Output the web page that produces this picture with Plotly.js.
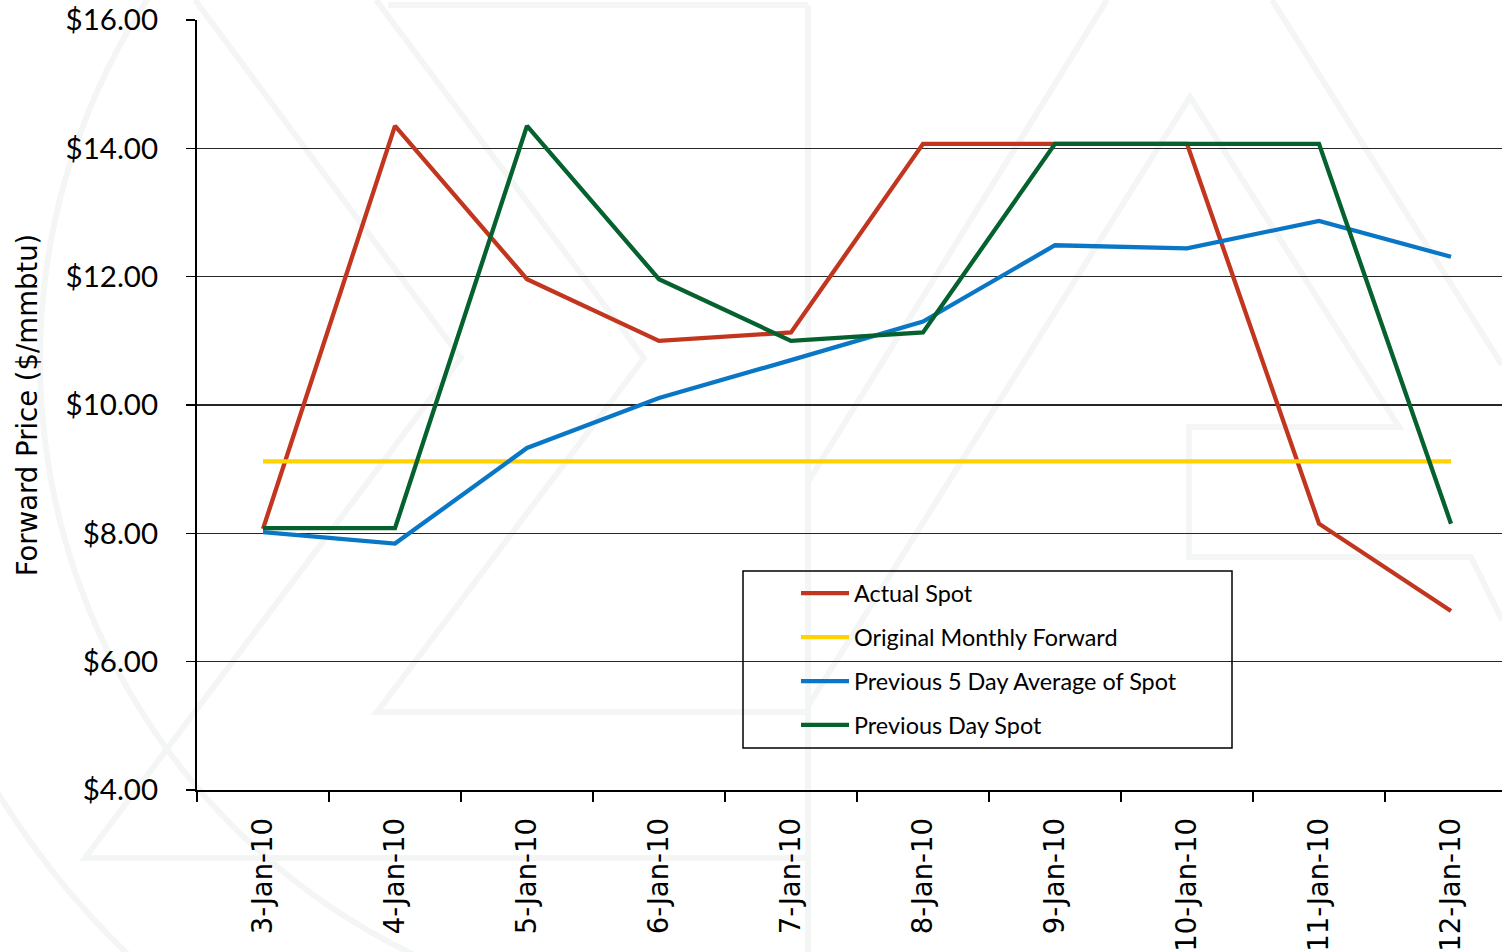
<!DOCTYPE html>
<html>
<head>
<meta charset="utf-8">
<script src="https://cdn.plot.ly/plotly-3.0.1.min.js"></script>
<style>
  html, body { margin: 0; padding: 0; overflow: hidden; background: #ffffff; }
</style>
</head>
<body>
<div id="chart"></div>
<script>
// Trading days shown on the category axis
const dates = ['3-Jan-10', '4-Jan-10', '5-Jan-10', '6-Jan-10', '7-Jan-10',
               '8-Jan-10', '9-Jan-10', '10-Jan-10', '11-Jan-10', '12-Jan-10'];

// Prices in $/mmbtu
const actualSpot      = [8.07, 14.35, 11.96, 11.00, 11.13, 14.07, 14.07, 14.07, 8.15, 6.79];
const monthlyForward  = [9.12, 9.12, 9.12, 9.12, 9.12, 9.12, 9.12, 9.12, 9.12, 9.12];
const fiveDayAverage  = [8.02, 7.84, 9.33, 10.11, 10.70, 11.30, 12.49, 12.44, 12.87, 12.31];
const previousDaySpot = [8.08, 8.08, 14.35, 11.96, 11.00, 11.13, 14.07, 14.07, 14.07, 8.15];

const seriesNames  = ['Actual Spot', 'Original Monthly Forward',
                      'Previous 5 Day Average of Spot', 'Previous Day Spot'];
const seriesValues = [actualSpot, monthlyForward, fiveDayAverage, previousDaySpot];
const seriesColors = ['#C2361F', '#FFD200', '#0A77C6', '#05622F'];

const yTicks = [4, 6, 8, 10, 12, 14, 16];

// Frame geometry (pixels)
const W = 1520, H = 952;
const L = 197, T = 20, PW = 1320, PH = 770;
const px = x => (x - L) / PW;          // pixel -> paper x
const py = y => (T + PH - y) / PH;     // pixel -> paper y

// Faint background emblem
const WM = '#f4f6f5';
const emblemLines = [
  [[388, 5], [808, 5]],
  [[808, 5], [808, 952]],
  [[376, 0], [644, 358], [377, 712], [808, 712]],
  [[195, 0], [461, 358], [85, 858], [808, 858]],
  [[1107, 0], [808, 482]],
  [[808, 706], [1190, 97], [1399, 427], [1189, 427], [1189, 557], [1471, 557], [1502, 620]],
  [[1272, 0], [1502, 365]]
];
function arcPoints(cx, cy, r, a0, a1) {
  const pts = [];
  for (let a = a0; a <= a1; a += 2) {
    const t = a * Math.PI / 180;
    pts.push([cx + r * Math.cos(t), cy + r * Math.sin(t)]);
  }
  return pts;
}
emblemLines.push(arcPoints(700, 360, 660, 110, 216));
emblemLines.push(arcPoints(700, 360, 825, 118, 160));

function toPath(pts) {
  return pts.map((p, i) => (i ? 'L' : 'M') + px(p[0]).toFixed(5) + ',' + py(p[1]).toFixed(5)).join(' ');
}

const shapes = emblemLines.map(pts => ({
  type: 'path', xref: 'paper', yref: 'paper', layer: 'below',
  path: toPath(pts), line: { color: WM, width: 6 }
}));

// Legend frame
shapes.push({
  type: 'rect', xref: 'paper', yref: 'paper', layer: 'above',
  x0: px(743), x1: px(1232), y0: py(748), y1: py(571),
  line: { color: '#000000', width: 1.5 }, fillcolor: 'rgba(0,0,0,0)'
});

const traces = seriesNames.map((name, i) => ({
  type: 'scatter', mode: 'lines',
  x: dates, y: seriesValues[i], name: name,
  legendgroup: 'g' + i,
  line: { color: seriesColors[i], width: 4.3 },
  hoverinfo: 'skip'
}));

const layout = {
  width: W, height: H,
  margin: { l: L, r: W - L - PW, t: T, b: H - T - PH, pad: 0 },
  paper_bgcolor: '#ffffff',
  plot_bgcolor: 'rgba(0,0,0,0)',
  font: { family: 'DejaVu Sans', color: '#000000' },
  showlegend: true,
  legend: {
    x: px(796), y: py(571.5), xanchor: 'left', yanchor: 'top',
    bgcolor: 'rgba(0,0,0,0)', borderwidth: 0,
    traceorder: 'grouped', tracegroupgap: 10.5, itemwidth: 48,
    font: { family: 'Lato', size: 23.4, color: '#000000' }
  },
  xaxis: {
    type: 'category', range: [-0.5, dates.length - 0.5],
    tickson: 'boundaries', ticks: 'outside', ticklen: 10, tickwidth: 1.5, tickcolor: '#000000',
    showline: true, linecolor: '#000000', linewidth: 2,
    showgrid: false, zeroline: false,
    tickangle: -90, tickfont: { family: 'DejaVu Sans', size: 27.5, color: '#000000' },
    ticklabelstandoff: 15,
    automargin: false, fixedrange: true
  },
  yaxis: {
    range: [4, 16], tickmode: 'array', tickvals: yTicks, tickformat: '$.2f',
    ticks: 'outside', ticklen: 9, tickwidth: 1.5, tickcolor: '#000000',
    showline: true, linecolor: '#000000', linewidth: 2,
    showgrid: true, gridcolor: '#262626', gridwidth: 1.5, zeroline: false,
    tickfont: { family: 'Lato', size: 29.5, color: '#000000' },
    ticklabelstandoff: 22,
    title: { text: 'Forward Price ($/mmbtu)', font: { family: 'DejaVu Sans', size: 27.5, color: '#000000' }, standoff: 20 },
    automargin: false, fixedrange: true
  },
  shapes: shapes
};

Plotly.newPlot('chart', traces, layout, { staticPlot: true, displayModeBar: false });
</script>
</body>
</html>
